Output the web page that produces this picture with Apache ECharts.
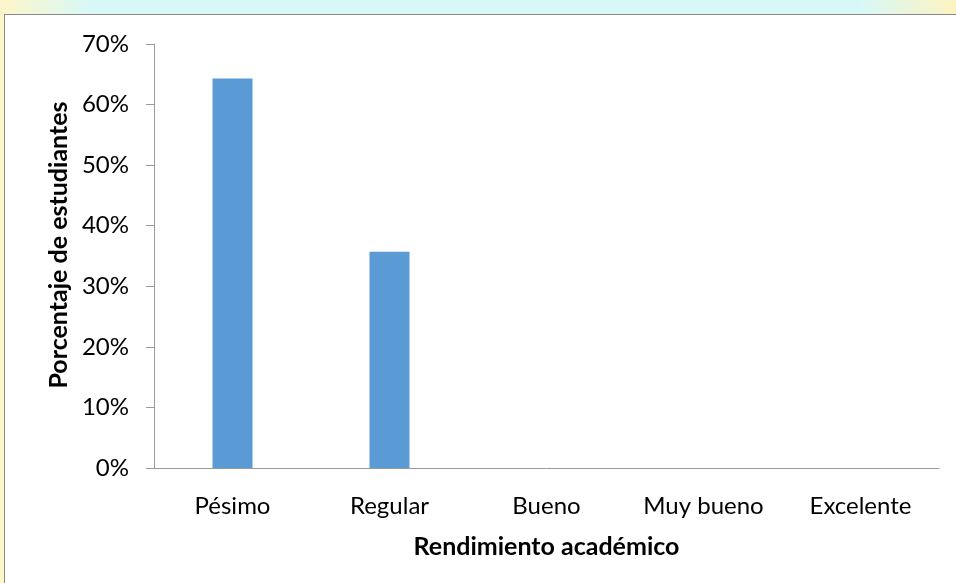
<!DOCTYPE html>
<html>
<head>
<meta charset="utf-8">
<script src="https://cdn.jsdelivr.net/npm/echarts@6/dist/echarts.min.js"></script>
<style>
  html, body { margin: 0; padding: 0; width: 956px; height: 583px; overflow: hidden;
    background: linear-gradient(90deg, #fdf6c8 0px, #d8f8f8 90px, #d8f8f8 860px, #fdf3c0 956px); }
  #frame { position: absolute; left: 4px; top: 14px; width: 960px; height: 580px;
    background: #ffffff; border: 1px solid #8a8a8a; box-sizing: border-box; }
  #chart { position: absolute; left: 0; top: 0; width: 956px; height: 583px; }
</style>
</head>
<body>
<div id="frame"></div>
<div id="chart"></div>
<script>
const categories = ["Pésimo", "Regular", "Bueno", "Muy bueno", "Excelente"];
const percentages = [64.29, 35.71, 0, 0, 0];
const yTicks = { min: 0, max: 70, interval: 10 };
const xAxisTitle = "Rendimiento académico";
const yAxisTitle = "Porcentaje de estudiantes";

const FONT = "Lato, 'Open Sans', sans-serif";
const chart = echarts.init(document.getElementById('chart'), null, { renderer: 'canvas' });
chart.setOption({
  backgroundColor: 'transparent',
  animation: false,
  grid: { left: 154, right: 17, top: 44, bottom: 115, containLabel: false },
  xAxis: {
    type: 'category',
    data: categories,
    name: xAxisTitle,
    nameLocation: 'middle',
    nameGap: 66,
    nameTextStyle: { fontFamily: FONT, fontSize: 25, fontWeight: 'bold', color: '#000' },
    axisLine: { show: true, lineStyle: { color: '#9a9a9a', width: 1 } },
    axisTick: { show: false },
    axisLabel: { fontFamily: FONT, fontSize: 24, color: '#000', margin: 26, interval: 0 }
  },
  yAxis: {
    type: 'value',
    min: yTicks.min, max: yTicks.max, interval: yTicks.interval,
    name: yAxisTitle,
    nameLocation: 'middle',
    nameGap: 69,
    nameTextStyle: { fontFamily: FONT, fontSize: 25, fontWeight: 'bold', color: '#000',
      padding: [0, 0, 0, 22] },
    axisLine: { show: true, lineStyle: { color: '#9a9a9a', width: 1 } },
    axisTick: { show: true, length: 8, lineStyle: { color: '#9a9a9a' } },
    splitLine: { show: false },
    axisLabel: { fontFamily: FONT, fontSize: 24, color: '#000', margin: 25,
      formatter: v => v + '%' }
  },
  series: [{
    type: 'bar',
    data: percentages,
    barWidth: 40,
    itemStyle: { color: '#5b9bd5', borderWidth: 0 }
  }]
});
</script>
</body>
</html>
